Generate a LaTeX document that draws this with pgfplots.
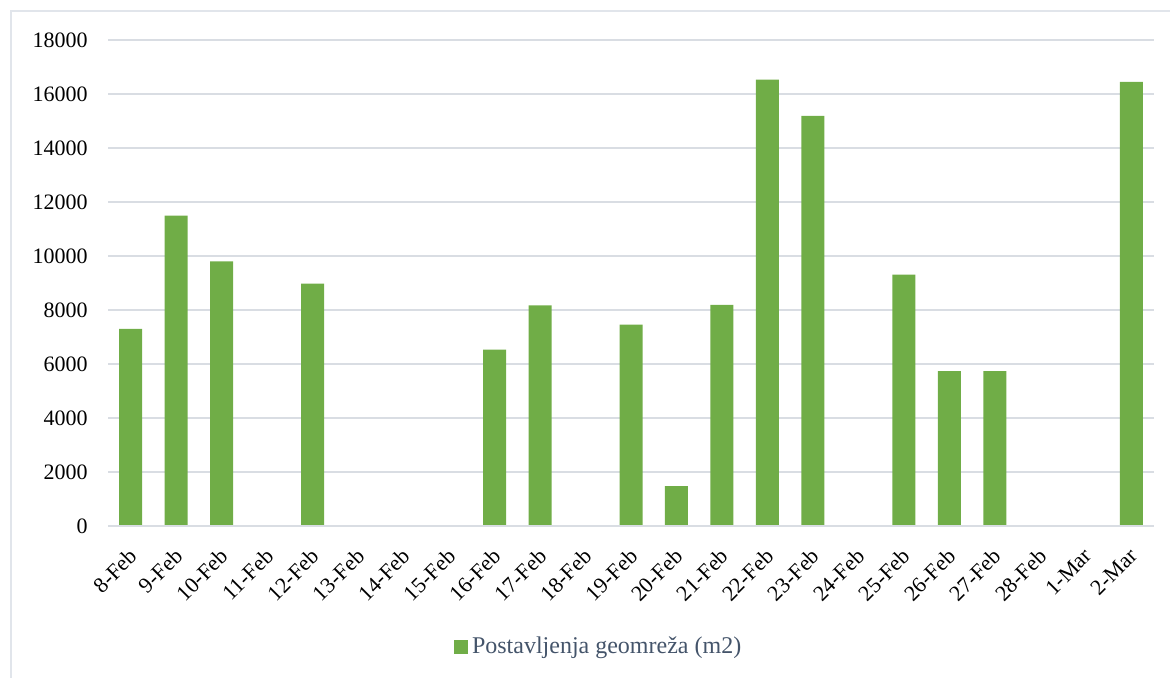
\documentclass[border=0pt]{standalone}
\usepackage{pgfplots}
\pgfplotsset{compat=1.18}
\usepackage{fontspec}
\setmainfont{Liberation Serif}
\definecolor{bargreen}{HTML}{70AD47}
\definecolor{gridgray}{HTML}{D9DDE3}
\definecolor{legtext}{HTML}{44546A}
\definecolor{framegray}{HTML}{E1E5EB}
\begin{document}
\begin{tikzpicture}[x=1pt,y=1pt]
    \useasboundingbox (0,0) rectangle (585,338.5);
    \begin{scope}
        \clip (0,0) rectangle (585,338.5);
        \draw[framegray, line width=0.8pt] (5.5,-10) rectangle (600,333);
    \end{scope}
    \begin{axis}[
        at = {(54pt,75.5pt)},
        anchor = south west,
        scale only axis,
        width  = 523pt,
        height = 243pt,
        ybar,
        bar width = 11.5pt,
        bar shift = 0pt,
        xmin = -0.5, xmax = 22.5,
        ymin = 0, ymax = 18000,
        ytick = {0,2000,...,18000},
        xtick = data,
        xticklabels = {8-Feb,9-Feb,10-Feb,11-Feb,12-Feb,13-Feb,14-Feb,15-Feb,16-Feb,17-Feb,18-Feb,19-Feb,20-Feb,21-Feb,22-Feb,23-Feb,24-Feb,25-Feb,26-Feb,27-Feb,28-Feb,1-Mar,2-Mar},
        xticklabel style = {xshift=-1.5pt, yshift=-9pt, rotate=45, anchor=north east, inner sep=1pt},
        yticklabel style = {inner sep=0pt, xshift=-10pt},
        /pgf/number format/assume math mode=true,
        scaled y ticks = false,
        yticklabel = {\pgfmathprintnumber[fixed,1000 sep={}]{\tick}},
        ymajorgrids = true,
        grid style = {gridgray, line width=0.8pt},
        axis line style = {draw=none},
        axis x line* = bottom,
        major tick length = 0pt,
        tick style = {draw=none},
        font = \fontsize{11}{13}\selectfont,
        legend style = {
            at = {(0.470,-0.249)}, anchor = center,
            draw = none, fill = none,
            font = \fontsize{12}{14}\selectfont\color{legtext},
            legend cell align = left,
        },
        legend image code/.code = {\fill[bargreen] (0pt,-3.5pt) rectangle (7pt,3.5pt);},
    ]
        \addplot[draw=none, fill=bargreen] coordinates {
            (0,7300) (1,11500) (2,9800) (3,0) (4,8980) (5,0) (6,0) (7,0)
            (8,6530) (9,8170) (10,0) (11,7460) (12,1480) (13,8190)
            (14,16530) (15,15190) (16,0) (17,9310) (18,5740) (19,5740)
            (20,0) (21,0) (22,16450)
        };
        \draw[gridgray, line width=0.8pt] (axis cs:-0.5,0) -- (axis cs:22.5,0);
        \legend{Postavljenja geomreža (m2)}
    \end{axis}
\end{tikzpicture}
\end{document}
